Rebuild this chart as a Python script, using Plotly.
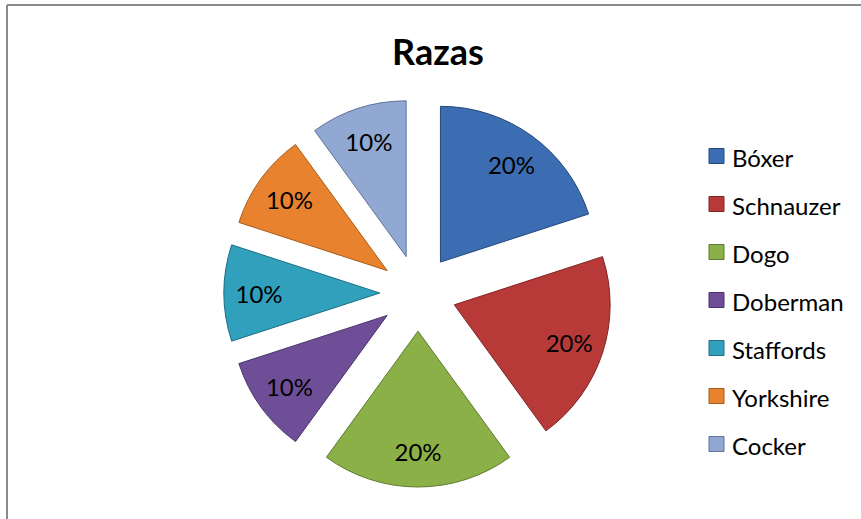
import plotly.graph_objects as go

# Data
breeds = ["Bóxer", "Schnauzer", "Dogo", "Doberman", "Staffords", "Yorkshire", "Cocker"]
shares = [20, 20, 20, 10, 10, 10, 10]
colors = ["#3C6DB2", "#B73A38", "#8CB048", "#6E4F97", "#31A0BC", "#E9822F", "#91A8D2"]
edge_colors = ["#25487A", "#7E2423", "#5C7A2B", "#48336A", "#1D6F84", "#A85A17", "#62759A"]
title_text = "Razas"

W, H = 861, 519
def px(x):
    return x / W
def py(y):
    return 1 - y / H

FONT = "Lato, 'Open Sans', sans-serif"

# Pie geometry (pixels)
cx, cy, half = 418, 293, 194
pull = 0.245
domain = dict(x=[px(cx - half), px(cx + half)], y=[py(cy + half), py(cy - half)])

fig = go.Figure()
# coloured slices
fig.add_trace(go.Pie(
    labels=breeds,
    values=shares,
    sort=False,
    direction="clockwise",
    rotation=0,
    pull=[pull] * len(shares),
    marker=dict(colors=colors, line=dict(color=edge_colors, width=1)),
    textinfo="none",
    domain=domain,
    showlegend=False,
    hoverinfo="label+percent",
))
# percentage labels placed in the outer ring of each slice
fig.add_trace(go.Pie(
    labels=breeds,
    values=shares,
    sort=False,
    direction="clockwise",
    rotation=0,
    hole=0.55,
    pull=[pull] * len(shares),
    marker=dict(colors=["rgba(0,0,0,0)"] * len(shares), line=dict(width=0)),
    texttemplate="%{percent:.0%}",
    textposition="inside",
    insidetextorientation="horizontal",
    textfont=dict(family=FONT, size=24, color="black"),
    domain=domain,
    showlegend=False,
    hoverinfo="skip",
))

shapes = [
    dict(type="line", xref="paper", yref="paper", x0=px(7), x1=1.01, y0=py(5), y1=py(5),
         line=dict(color="#8A8A8A", width=2)),
    dict(type="line", xref="paper", yref="paper", x0=px(7), x1=px(7), y0=py(5), y1=-0.01,
         line=dict(color="#8A8A8A", width=2)),
]
annotations = []
row0, gap = 156, 48
for i, (name, c, ec) in enumerate(zip(breeds, colors, edge_colors)):
    yc = row0 + gap * i
    shapes.append(dict(type="rect", xref="paper", yref="paper",
                       x0=px(709), x1=px(724), y0=py(yc + 7.5), y1=py(yc - 7.5),
                       fillcolor=c, line=dict(color=ec, width=1)))
    annotations.append(dict(text=name, xref="paper", yref="paper", x=px(730), y=py(yc + 1),
                            xanchor="left", yanchor="middle", showarrow=False,
                            font=dict(family=FONT, size=24, color="black")))

fig.update_layout(
    width=W, height=H,
    margin=dict(l=0, r=0, t=0, b=0),
    paper_bgcolor="white",
    plot_bgcolor="white",
    title=dict(text="<b>" + title_text + "</b>", x=px(438), y=py(52), xref="paper", yref="paper",
               xanchor="center", yanchor="middle",
               font=dict(family=FONT, size=36, color="black")),
    shapes=shapes,
    annotations=annotations,
)

fig.write_html("out.html", config={"displayModeBar": False},
               post_script="document.body.style.margin='0';document.body.style.overflow='hidden';")
